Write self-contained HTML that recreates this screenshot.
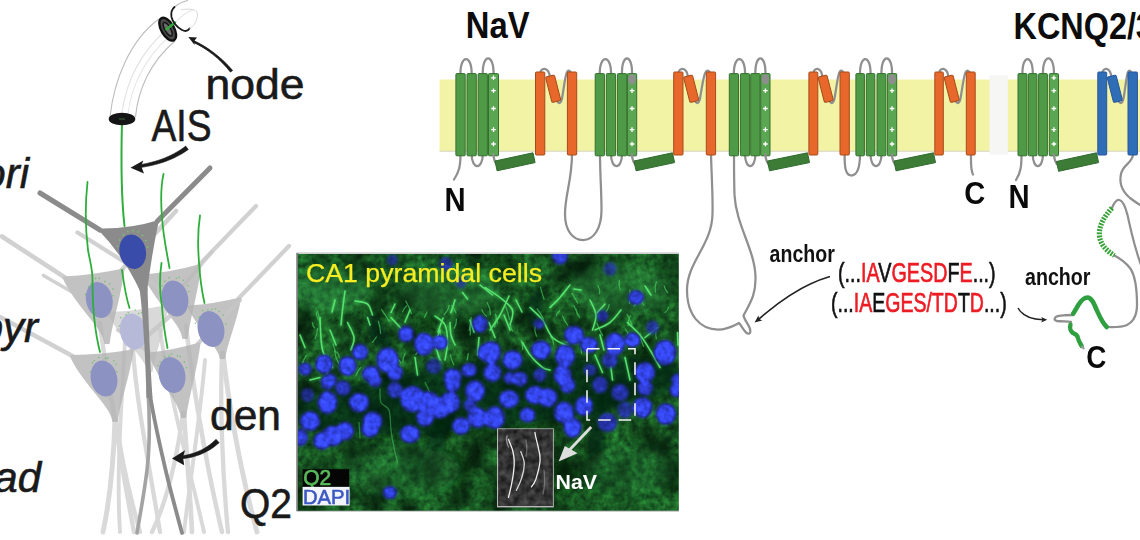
<!DOCTYPE html>
<html lang="en"><head><meta charset="utf-8"><title>AIS channels figure</title>
<style>
html,body{margin:0;padding:0;background:#fff;}
body{width:1140px;height:540px;overflow:hidden;position:relative;font-family:"Liberation Sans",sans-serif;}
svg{position:absolute;left:0;top:0;display:block;}
text{font-family:"Liberation Sans",sans-serif;}
.lab{fill:#1a1a1a;font-size:42px;stroke:#1a1a1a;stroke-width:0.6px;}
.it{font-style:italic;}
.b{font-weight:bold;}
.red{fill:#ed1c24;stroke:#ed1c24;}
</style></head><body>
<svg width="1140" height="540" viewBox="0 0 1140 540">
<defs>
<filter id="noise" x="0" y="0" width="100%" height="100%" color-interpolation-filters="sRGB">
<feTurbulence type="fractalNoise" baseFrequency="0.16" numOctaves="3" seed="4" result="t"/>
<feColorMatrix type="matrix" values="0.18 0 0 0 0.03  0.56 0 0 0 0.13  0.2 0 0 0 0.06  0 0 0 0 1"/>
</filter>
<filter id="gnoise" x="0" y="0" width="100%" height="100%" color-interpolation-filters="sRGB">
<feTurbulence type="fractalNoise" baseFrequency="0.14" numOctaves="2" seed="9"/>
<feColorMatrix type="matrix" values="0.42 0 0 0 -0.01  0.42 0 0 0 -0.01  0.42 0 0 0 -0.01  0 0 0 0 1"/>
</filter>
<filter id="lnoise" x="0" y="0" width="100%" height="100%" color-interpolation-filters="sRGB">
<feTurbulence type="fractalNoise" baseFrequency="0.035" numOctaves="2" seed="21"/>
<feColorMatrix type="matrix" values="0 0 0 0 0.01  0 0 0 0 0.08  0 0 0 0 0.03  0 1.8 0 0 -0.62"/>
</filter>
<filter id="bl1" color-interpolation-filters="sRGB"><feGaussianBlur in="SourceGraphic" stdDeviation="1.5" result="b"/>
<feTurbulence type="fractalNoise" baseFrequency="0.17" numOctaves="2" seed="3" result="n"/>
<feColorMatrix in="n" type="matrix" values="1 0 0 0 0  1 0 0 0 0  1 0 0 0 0  0 0 0 0 1" result="n2"/>
<feComposite in="b" in2="n2" operator="arithmetic" k1="0.8" k2="0.66" k3="0" k4="0"/></filter>
<filter id="bl2"><feGaussianBlur stdDeviation="0.7"/></filter><filter id="bl4"><feGaussianBlur stdDeviation="1.6"/></filter>
<filter id="bl3"><feGaussianBlur stdDeviation="4"/></filter>
<clipPath id="mclip"><rect x="298" y="254" width="380.5" height="256.5"/></clipPath>
</defs>
<g id="neuron">
<g opacity="0.7" fill="none" stroke="#c9c9c9" stroke-linecap="round">
<path d="M100,323 C104,360 112,400 118,440 C124,480 130,510 134,532" stroke-width="4.5"/>
<path d="M115,419 C114,450 112,490 103,532" stroke-width="4.9"/>
<path d="M116,419 C120,450 128,490 140,532" stroke-width="4.3"/>
<path d="M184,413 C186,450 190,490 192,532" stroke-width="4.7"/>
<path d="M183,413 C178,450 170,495 152,532" stroke-width="4.3"/>
<path d="M223,353 C228,400 240,470 257,532" stroke-width="4.9"/>
<path d="M222,353 C220,400 222,470 228,532" stroke-width="4.3"/>
<path d="M186,326 C192,380 205,460 222,532" stroke-width="4.5"/>
<path d="M133,350 C136,400 150,470 160,532" stroke-width="4.3"/>
<path d="M160,330 C170,400 190,470 204,532" stroke-width="3.9000000000000004"/>
<path d="M205,360 C200,420 190,480 184,532" stroke-width="3.9000000000000004"/>
<path d="M125,340 C122,400 116,470 120,532" stroke-width="3.9000000000000004"/>
</g>
<g opacity="0.75">
<path d="M166,306 L212,252" fill="none" stroke="#d6d6d6" stroke-width="4" stroke-linecap="round"/>
<path d="M108.5,313 Q138.0,312.0 167.5,306 C163.5,332.0 153.5,354.8 151.8,371 L148.2,371 C146.5,356.5 118.5,336.2 108.5,313 Z" fill="#cdcdcd" stroke="#cdcdcd" stroke-width="2" stroke-linejoin="round"/>
</g>
<g opacity="0.8">
<path d="M65,277.5 L2,236.5" fill="none" stroke="#c6c6c6" stroke-width="4.6" stroke-linecap="round"/>
<path d="M43.5,275.5 L72,292" fill="none" stroke="#c6c6c6" stroke-width="3.6" stroke-linecap="round"/>
<path d="M122,269.5 L176,211" fill="none" stroke="#c6c6c6" stroke-width="4.6" stroke-linecap="round"/>
<path d="M63.5,277.5 Q93.5,276.0 123.5,269.5 C119.8,298.9 110.5,324.6 108.8,343 L105.2,343 C103.5,326.6 74.0,303.7 63.5,277.5 Z" fill="#b4b4b4" stroke="#b4b4b4" stroke-width="2" stroke-linejoin="round"/>
</g>
<g opacity="0.8">
<path d="M146,275.5 L77.5,232.5" fill="none" stroke="#c6c6c6" stroke-width="4.2" stroke-linecap="round"/>
<path d="M199,265 L256,206" fill="none" stroke="#c6c6c6" stroke-width="4.2" stroke-linecap="round"/>
<path d="M144.5,275.5 Q172.5,272.8 200.5,265 C197.0,294.2 188.5,319.8 186.8,338 L183.2,338 C181.5,322.4 154.2,300.5 144.5,275.5 Z" fill="#b4b4b4" stroke="#b4b4b4" stroke-width="2" stroke-linejoin="round"/>
</g>
<g opacity="0.8">
<path d="M238.5,298.5 L289,246" fill="none" stroke="#c6c6c6" stroke-width="4.2" stroke-linecap="round"/>
<path d="M190,306.5 L150,282" fill="none" stroke="#c6c6c6" stroke-width="4.2" stroke-linecap="round"/>
<path d="M188.5,306.5 Q214.2,305.0 240.0,298.5 C236.0,322.3 226.0,343.1 224.3,358 L220.7,358 C219.0,345.1 196.6,327.1 188.5,306.5 Z" fill="#b4b4b4" stroke="#b4b4b4" stroke-width="2" stroke-linejoin="round"/>
</g>
<g opacity="0.8">
<path d="M72.5,356 L0,317" fill="none" stroke="#c6c6c6" stroke-width="4.4" stroke-linecap="round"/>
<path d="M131,350.5 L170,316" fill="none" stroke="#c6c6c6" stroke-width="4.4" stroke-linecap="round"/>
<path d="M71.0,356 Q101.8,355.8 132.5,350.5 C128.5,378.7 118.5,403.4 116.8,421 L113.2,421 C111.5,404.8 81.6,382.0 71.0,356 Z" fill="#b4b4b4" stroke="#b4b4b4" stroke-width="2" stroke-linejoin="round"/>
</g>
<g opacity="0.8">
<path d="M198,343.5 L240,300" fill="none" stroke="#c6c6c6" stroke-width="4" stroke-linecap="round"/>
<path d="M150,353 L118,330" fill="none" stroke="#c6c6c6" stroke-width="4" stroke-linecap="round"/>
<path d="M149.5,353.5 Q174.5,351.0 199.5,343.5 C195.9,372.9 187.0,398.6 185.3,417 L181.7,417 C180.0,401.1 157.6,378.9 149.5,353.5 Z" fill="#b4b4b4" stroke="#b4b4b4" stroke-width="2" stroke-linejoin="round"/>
</g>
<ellipse cx="133.3" cy="331.5" rx="13.2" ry="18.2" fill="#b6bad8" transform="rotate(-12 133.3 331.5)"/>
<circle cx="119.2" cy="326.0" r="0.8" fill="#5fc060" opacity="0.8"/>
<circle cx="120.6" cy="317.8" r="0.8" fill="#5fc060" opacity="0.8"/>
<circle cx="126.1" cy="314.8" r="0.8" fill="#5fc060" opacity="0.8"/>
<circle cx="128.3" cy="312.7" r="0.8" fill="#5fc060" opacity="0.8"/>
<circle cx="135.2" cy="310.0" r="0.8" fill="#5fc060" opacity="0.8"/>
<circle cx="138.8" cy="313.6" r="0.8" fill="#5fc060" opacity="0.8"/>
<circle cx="141.7" cy="312.8" r="0.8" fill="#5fc060" opacity="0.8"/>
<circle cx="144.8" cy="319.5" r="0.8" fill="#5fc060" opacity="0.8"/>
<circle cx="146.4" cy="325.7" r="0.8" fill="#5fc060" opacity="0.8"/>
<ellipse cx="99.3" cy="300" rx="13.2" ry="18.2" fill="#8c93c2" transform="rotate(-12 99.3 300)"/>
<circle cx="85.5" cy="294.4" r="0.8" fill="#5fc060" opacity="0.8"/>
<circle cx="88.7" cy="286.6" r="0.8" fill="#5fc060" opacity="0.8"/>
<circle cx="91.4" cy="283.9" r="0.8" fill="#5fc060" opacity="0.8"/>
<circle cx="95.5" cy="278.6" r="0.8" fill="#5fc060" opacity="0.8"/>
<circle cx="99.3" cy="278.4" r="0.8" fill="#5fc060" opacity="0.8"/>
<circle cx="104.8" cy="281.6" r="0.8" fill="#5fc060" opacity="0.8"/>
<circle cx="109.6" cy="284.0" r="0.8" fill="#5fc060" opacity="0.8"/>
<circle cx="113.0" cy="289.0" r="0.8" fill="#5fc060" opacity="0.8"/>
<circle cx="113.0" cy="295.8" r="0.8" fill="#5fc060" opacity="0.8"/>
<ellipse cx="175" cy="298.5" rx="13.2" ry="18.2" fill="#8c93c2" transform="rotate(-12 175 298.5)"/>
<circle cx="160.1" cy="292.4" r="0.8" fill="#5fc060" opacity="0.8"/>
<circle cx="162.0" cy="285.7" r="0.8" fill="#5fc060" opacity="0.8"/>
<circle cx="165.0" cy="281.4" r="0.8" fill="#5fc060" opacity="0.8"/>
<circle cx="169.1" cy="277.7" r="0.8" fill="#5fc060" opacity="0.8"/>
<circle cx="176.4" cy="278.3" r="0.8" fill="#5fc060" opacity="0.8"/>
<circle cx="178.9" cy="277.2" r="0.8" fill="#5fc060" opacity="0.8"/>
<circle cx="183.4" cy="280.2" r="0.8" fill="#5fc060" opacity="0.8"/>
<circle cx="187.9" cy="285.7" r="0.8" fill="#5fc060" opacity="0.8"/>
<circle cx="188.9" cy="291.5" r="0.8" fill="#5fc060" opacity="0.8"/>
<ellipse cx="211" cy="329" rx="13.2" ry="18.2" fill="#8c93c2" transform="rotate(-12 211 329)"/>
<circle cx="195.4" cy="323.2" r="0.8" fill="#5fc060" opacity="0.8"/>
<circle cx="199.4" cy="317.4" r="0.8" fill="#5fc060" opacity="0.8"/>
<circle cx="202.7" cy="310.5" r="0.8" fill="#5fc060" opacity="0.8"/>
<circle cx="207.9" cy="310.0" r="0.8" fill="#5fc060" opacity="0.8"/>
<circle cx="211.9" cy="309.5" r="0.8" fill="#5fc060" opacity="0.8"/>
<circle cx="215.4" cy="308.8" r="0.8" fill="#5fc060" opacity="0.8"/>
<circle cx="219.1" cy="311.3" r="0.8" fill="#5fc060" opacity="0.8"/>
<circle cx="223.4" cy="315.2" r="0.8" fill="#5fc060" opacity="0.8"/>
<circle cx="225.8" cy="324.1" r="0.8" fill="#5fc060" opacity="0.8"/>
<ellipse cx="104" cy="378.5" rx="13.2" ry="18.2" fill="#8c93c2" transform="rotate(-12 104 378.5)"/>
<circle cx="90.4" cy="371.7" r="0.8" fill="#5fc060" opacity="0.8"/>
<circle cx="92.4" cy="362.8" r="0.8" fill="#5fc060" opacity="0.8"/>
<circle cx="94.3" cy="360.7" r="0.8" fill="#5fc060" opacity="0.8"/>
<circle cx="98.8" cy="357.5" r="0.8" fill="#5fc060" opacity="0.8"/>
<circle cx="105.7" cy="358.4" r="0.8" fill="#5fc060" opacity="0.8"/>
<circle cx="108.0" cy="358.1" r="0.8" fill="#5fc060" opacity="0.8"/>
<circle cx="113.8" cy="360.8" r="0.8" fill="#5fc060" opacity="0.8"/>
<circle cx="116.1" cy="364.2" r="0.8" fill="#5fc060" opacity="0.8"/>
<circle cx="116.9" cy="371.7" r="0.8" fill="#5fc060" opacity="0.8"/>
<ellipse cx="172" cy="375" rx="13.2" ry="18.2" fill="#8c93c2" transform="rotate(-12 172 375)"/>
<circle cx="158.0" cy="365.6" r="0.8" fill="#5fc060" opacity="0.8"/>
<circle cx="160.1" cy="362.0" r="0.8" fill="#5fc060" opacity="0.8"/>
<circle cx="164.8" cy="356.9" r="0.8" fill="#5fc060" opacity="0.8"/>
<circle cx="169.0" cy="355.9" r="0.8" fill="#5fc060" opacity="0.8"/>
<circle cx="171.5" cy="354.1" r="0.8" fill="#5fc060" opacity="0.8"/>
<circle cx="177.4" cy="355.7" r="0.8" fill="#5fc060" opacity="0.8"/>
<circle cx="180.2" cy="356.6" r="0.8" fill="#5fc060" opacity="0.8"/>
<circle cx="184.4" cy="362.1" r="0.8" fill="#5fc060" opacity="0.8"/>
<circle cx="186.4" cy="367.7" r="0.8" fill="#5fc060" opacity="0.8"/>
<path d="M148,390 C150,420 150,445 147,470 C144,495 140,515 137,533" fill="none" stroke="#a3a3a3" stroke-width="3.6" stroke-linecap="round"/>
<path d="M100,230 L40,193" stroke="#8b8b8b" stroke-width="5" stroke-linecap="round" fill="none"/>
<path d="M157,221.5 L210,168" stroke="#8b8b8b" stroke-width="5" stroke-linecap="round" fill="none"/>
<path d="M97,228.5 Q128,229.5 159,220 Q152,252 147,292 L140.5,292 Q124,256 97,228.5 Z" fill="#8b8b8b"/>
<path d="M149.5,392 C154,420 162,455 168,480 C173,500 178,518 182,533" fill="none" stroke="#8b8b8b" stroke-width="3.8" stroke-linecap="round"/>
<path d="M139.5,288 L147.5,288 C148.5,320 150,360 152.5,398 L146.5,398 C145.5,360 143.5,320 139.5,288 Z" fill="#8b8b8b"/>
<ellipse cx="132.7" cy="251.7" rx="13.2" ry="17.4" fill="#3a4caa" transform="rotate(-12 132.7 251.7)"/>
<circle cx="117.7" cy="246.3" r="0.8" fill="#6fd070"/>
<circle cx="119.8" cy="240.0" r="0.8" fill="#6fd070"/>
<circle cx="123.4" cy="234.9" r="0.8" fill="#6fd070"/>
<circle cx="127.9" cy="231.7" r="0.8" fill="#6fd070"/>
<circle cx="133.0" cy="230.7" r="0.8" fill="#6fd070"/>
<circle cx="138.0" cy="232.0" r="0.8" fill="#6fd070"/>
<circle cx="142.5" cy="235.4" r="0.8" fill="#6fd070"/>
<circle cx="145.8" cy="240.6" r="0.8" fill="#6fd070"/>
<circle cx="147.8" cy="247.0" r="0.8" fill="#6fd070"/>
<path d="M122,122 C121,160 121,195 124.5,226" fill="none" stroke="#2fae3c" stroke-width="2" stroke-linecap="round"/>
<path d="M87.5,182 C85,205 85.5,230 88,250 C90,262 92.5,268 92.5,280 C92.5,300 93,325 100,352" fill="none" stroke="#2fae3c" stroke-width="1.8" stroke-linecap="round"/>
<path d="M163.5,174 C160,190 161,205 162,217 C163,235 166,248 169.5,268" fill="none" stroke="#2fae3c" stroke-width="1.8" stroke-linecap="round"/>
<path d="M200,215.5 C197,235 198,250 199,262 C200,280 202,292 204.5,303" fill="none" stroke="#2fae3c" stroke-width="1.8" stroke-linecap="round"/>
<path d="M161.5,263 C159,280 160,295 162,306 C163,322 165,335 167.5,348" fill="none" stroke="#2fae3c" stroke-width="1.8" stroke-linecap="round"/>
<path d="M122,270 C124,285 126,297 129.5,308" fill="none" stroke="#2fae3c" stroke-width="1.8" stroke-linecap="round"/>
<g fill="none" stroke="#bcbcbc" stroke-width="1.1">
<path d="M110,117 C114,80 130,40 159,19"/>
<path d="M135.5,117 C138,90 150,62 175,41"/>
<path d="M122,112 C126,85 138,55 166,30" stroke="#e3e3e3"/>
<path d="M128,114 C131,88 144,58 170,36" stroke="#e8e8e8"/>
<path d="M174.5,7 C178,4 183,1.5 188,0.5" />
<path d="M176,22 C181,16 187,12 193,10" stroke="#e6e6e6"/>
</g>
<ellipse cx="122" cy="119" rx="13.3" ry="6.2" fill="#151515"/>
<path d="M119,119 h6" stroke="#3a6b3a" stroke-width="1"/>
<g transform="rotate(-30 167.7 29.2)"><ellipse cx="167.7" cy="29.2" rx="6.4" ry="12.6" fill="#4a4a4a" stroke="#111" stroke-width="2.4"/><ellipse cx="167.7" cy="29.2" rx="2.8" ry="7.6" fill="#6a6a6a" stroke="#151515" stroke-width="1.4"/></g>
<path d="M166.5,29.2 L175,22.6" stroke="#2fae3c" stroke-width="2.4" stroke-linecap="round" stroke-dasharray="2.2 1"/>
<path d="M174.5,7 C171,10 171,14 171.5,17 C172.5,22 177,27.5 182,30 C185,31.5 188,31 189.5,28.5" fill="none" stroke="#1a1a1a" stroke-width="1.8" stroke-linecap="round"/>
<path d="M189.5,28.5 C193,27 197,22 197.5,15 C197.5,11 195,9.5 191,9.3 C187,9 184,9.2 181,10" fill="none" stroke="#d4d4d4" stroke-width="0.9"/>
<path d="M232.6,70.5 C222,58 207,46.5 194,40.8 L193.2,42.3 C206,48 220.5,59 230.4,72 Z" fill="#1a1a1a" stroke="#1a1a1a" stroke-width="0.8" stroke-linejoin="round"/>
<path d="M188.3,37 L197,37.6 L194.4,40.8 L194.6,45 Z" fill="#1a1a1a"/>
<path d="M185.7,146.1 L183.1,148.1 L180.3,150.0 L177.4,151.7 L174.4,153.4 L171.4,155.0 L168.2,156.5 L164.9,157.9 L161.5,159.2 L158.0,160.4 L154.3,161.5 L150.6,162.5 L146.8,163.4 L142.8,164.2 L138.8,164.9 L139.2,167.7 L143.3,167.1 L147.4,166.3 L151.3,165.5 L155.2,164.6 L158.9,163.5 L162.6,162.4 L166.1,161.2 L169.6,159.8 L172.9,158.4 L176.2,156.8 L179.4,155.1 L182.4,153.4 L185.4,151.5 L188.3,149.5 Z" fill="#1a1a1a" stroke="#1a1a1a" stroke-width="0.6" stroke-linejoin="round"/>
<path d="M130.5,167.8 L143.3,160.4 L141.2,166.3 L144,173.6 Z" fill="#1a1a1a"/>
<path d="M216.0,439.3 L214.0,441.3 L211.9,443.1 L209.8,444.8 L207.6,446.3 L205.2,447.8 L202.9,449.2 L200.4,450.4 L197.8,451.5 L195.2,452.6 L192.5,453.5 L189.7,454.3 L186.8,455.0 L183.9,455.5 L180.8,456.0 L181.2,458.8 L184.3,458.4 L187.4,458.0 L190.5,457.4 L193.4,456.7 L196.3,455.8 L199.1,454.9 L201.9,453.8 L204.6,452.6 L207.2,451.2 L209.8,449.8 L212.2,448.2 L214.6,446.5 L216.9,444.6 L219.2,442.7 Z" fill="#1a1a1a" stroke="#1a1a1a" stroke-width="0.6" stroke-linejoin="round"/>
<path d="M172,458.4 L185,450.2 L183,457.3 L184.2,465.2 Z" fill="#1a1a1a"/>
<text x="205.5" y="99" class="lab" textLength="99" lengthAdjust="spacingAndGlyphs">node</text>
<text x="151.5" y="141" class="lab" style="font-size:44px" textLength="60" lengthAdjust="spacingAndGlyphs">AIS</text>
<text x="210" y="430" class="lab" textLength="71" lengthAdjust="spacingAndGlyphs">den</text>
<text x="240" y="518" class="lab" textLength="52" lengthAdjust="spacingAndGlyphs">Q2</text>
<text x="29" y="188" class="lab it" text-anchor="end">ori</text>
<text x="38" y="341.5" class="lab it" text-anchor="end">pyr</text>
<text x="41" y="491.5" class="lab it" text-anchor="end">rad</text>
</g>
<g id="micro">
<rect x="296.5" y="252.3" width="382.5" height="259.7" fill="#cfcfcf"/>
<rect x="296.3" y="253" width="2" height="258" fill="#7c7c7c"/>
<g clip-path="url(#mclip)">
<rect x="298" y="254" width="381" height="257" fill="#17622f"/>
<rect x="298" y="254" width="381" height="257" filter="url(#noise)" opacity="0.9"/>
<rect x="298" y="254" width="381" height="257" filter="url(#lnoise)"/>
<g filter="url(#bl3)">
<ellipse cx="379" cy="334" rx="9" ry="24" fill="#031a0c" opacity="0.75" transform="rotate(-28 379 334)"/>
<ellipse cx="425" cy="330" rx="9" ry="22" fill="#031a0c" opacity="0.4" transform="rotate(10 425 330)"/>
<ellipse cx="535" cy="308" rx="8" ry="20" fill="#031a0c" opacity="0.6" transform="rotate(8 535 308)"/>
<ellipse cx="500" cy="262" rx="12" ry="12" fill="#031a0c" opacity="0.4" transform="rotate(0 500 262)"/>
<ellipse cx="436" cy="447" rx="9" ry="42" fill="#031a0c" opacity="0.6" transform="rotate(8 436 447)"/>
<ellipse cx="598" cy="428" rx="9" ry="42" fill="#031a0c" opacity="0.6" transform="rotate(5 598 428)"/>
<ellipse cx="455" cy="470" rx="14" ry="20" fill="#031a0c" opacity="0.3" transform="rotate(0 455 470)"/>
<ellipse cx="306" cy="498" rx="16" ry="16" fill="#031a0c" opacity="0.5" transform="rotate(0 306 498)"/>
<ellipse cx="375" cy="480" rx="12" ry="10" fill="#031a0c" opacity="0.3" transform="rotate(0 375 480)"/>
<ellipse cx="560" cy="478" rx="16" ry="20" fill="#031a0c" opacity="0.3" transform="rotate(0 560 478)"/>
<ellipse cx="490" cy="395" rx="200" ry="34" fill="#04260f" opacity="0.68" transform="rotate(-6 490 395)"/>
<ellipse cx="330" cy="290" rx="40" ry="22" fill="#3aa854" opacity="0.3" transform="rotate(0 330 290)"/>
<ellipse cx="450" cy="292" rx="50" ry="22" fill="#3aa854" opacity="0.28" transform="rotate(0 450 292)"/>
<ellipse cx="620" cy="290" rx="50" ry="25" fill="#3aa854" opacity="0.28" transform="rotate(0 620 290)"/>
<ellipse cx="400" cy="470" rx="60" ry="25" fill="#3aa854" opacity="0.12" transform="rotate(0 400 470)"/>
<ellipse cx="630" cy="470" rx="45" ry="25" fill="#3aa854" opacity="0.12" transform="rotate(0 630 470)"/>
</g>
<g filter="url(#bl4)" fill="none" stroke="#46d862" stroke-width="3.2" stroke-linecap="round" opacity="0.4">
<path d="M345,291 C344.6,294.2 343.2,304.3 342.5,310 C341.8,315.7 341.2,322.5 341,325"/>
<path d="M355,301 C357.1,301.5 364.6,301.7 367.5,304 C370.4,306.3 371.7,313.2 372.5,315"/>
<path d="M320,317.5 C320.4,322.9 320.4,341.7 322.5,350 C324.6,358.3 330.8,364.6 332.5,367.5"/>
<path d="M347.5,322.5 C348.6,325.0 353.4,332.9 354,337.5 C354.6,342.1 351.5,347.9 351,350"/>
<path d="M395,304 L391,312.5"/>
<path d="M391,317.5 C392.9,319.6 400.0,327.1 402.5,330 C405.0,332.9 405.4,334.2 406,335"/>
<path d="M435,316 C436.7,317.5 442.9,320.6 445,325 C447.1,329.4 447.5,336.7 447.5,342.5 C447.5,348.3 445.4,357.1 445,360"/>
<path d="M450,322.5 C450.2,324.6 450.2,331.2 451,335 C451.8,338.8 454.3,343.3 455,345"/>
<path d="M455,300 L451,312.5"/>
<path d="M462.5,292.5 L467.5,299"/>
<path d="M480,285 L492.5,295"/>
<path d="M479,337.5 L477.5,355"/>
<path d="M415,357.5 L417.5,375"/>
<path d="M367.5,317.5 L370,325"/>
<path d="M300,335 L305,347.5"/>
<path d="M310,380 L320,377.5"/>
<path d="M485,287.5 C487.5,289.2 495.4,293.8 500,297.5 C504.6,301.2 510.8,305.4 512.5,310 C514.2,314.6 510.4,322.5 510,325"/>
<path d="M509,296 C507.5,299.2 503.2,309.3 500,315 C496.8,320.7 491.7,327.5 490,330"/>
<path d="M570,285 C568.3,287.1 563.3,293.8 560,297.5 C556.7,301.2 551.7,305.8 550,307.5"/>
<path d="M574,289 L581,290"/>
<path d="M530,307.5 C532.1,309.6 538.8,315.0 542.5,320 C546.2,325.0 548.3,333.2 552.5,337.5 C556.7,341.8 565.0,344.6 567.5,346"/>
<path d="M590,300 C591.0,302.5 595.6,310.0 596,315 C596.4,320.0 593.1,327.5 592.5,330"/>
<path d="M605,304 L597.5,312.5"/>
<path d="M621,310 C619.2,312.1 614.3,319.2 610,322.5 C605.7,325.8 597.5,328.8 595,330"/>
<path d="M645,286 L651,295"/>
<path d="M627.5,322.5 C629.6,324.6 636.2,330.4 640,335 C643.8,339.6 646.7,344.6 650,350 C653.3,355.4 658.3,364.6 660,367.5"/>
<path d="M657.5,327.5 L645,337.5"/>
<path d="M522.5,342.5 C523.8,344.6 526.7,350.8 530,355 C533.3,359.2 539.2,365.0 542.5,367.5 C545.8,370.0 548.8,369.6 550,370"/>
<path d="M504,315 L510,330"/>
<path d="M489,322.5 L495,337.5"/>
<path d="M595,355 L602.5,372.5"/>
<path d="M610,360 L612.5,380"/>
<path d="M625,357.5 L630,380"/>
<path d="M677.5,332.5 L678,345"/>
<path d="M440,330 C439.3,332.5 436.0,340.0 436,345 C436.0,350.0 439.3,357.5 440,360"/>
<path d="M443,318 L438,332"/>
<path d="M330,330 L336,345"/>
<path d="M410,310 L405,322"/>
<path d="M470,320 L474,332"/>
<path d="M516,300 L522,312"/>
<path d="M600,335 L604,350"/>
<path d="M335,300 L332,312"/>
</g>
<g filter="url(#bl2)" fill="none" stroke="#5cec74" stroke-width="1.6" stroke-linecap="round" opacity="0.9">
<path d="M345,291 C344.6,294.2 343.2,304.3 342.5,310 C341.8,315.7 341.2,322.5 341,325"/>
<path d="M355,301 C357.1,301.5 364.6,301.7 367.5,304 C370.4,306.3 371.7,313.2 372.5,315"/>
<path d="M320,317.5 C320.4,322.9 320.4,341.7 322.5,350 C324.6,358.3 330.8,364.6 332.5,367.5"/>
<path d="M347.5,322.5 C348.6,325.0 353.4,332.9 354,337.5 C354.6,342.1 351.5,347.9 351,350"/>
<path d="M395,304 L391,312.5"/>
<path d="M391,317.5 C392.9,319.6 400.0,327.1 402.5,330 C405.0,332.9 405.4,334.2 406,335"/>
<path d="M435,316 C436.7,317.5 442.9,320.6 445,325 C447.1,329.4 447.5,336.7 447.5,342.5 C447.5,348.3 445.4,357.1 445,360"/>
<path d="M450,322.5 C450.2,324.6 450.2,331.2 451,335 C451.8,338.8 454.3,343.3 455,345"/>
<path d="M455,300 L451,312.5"/>
<path d="M462.5,292.5 L467.5,299"/>
<path d="M480,285 L492.5,295"/>
<path d="M479,337.5 L477.5,355"/>
<path d="M415,357.5 L417.5,375"/>
<path d="M367.5,317.5 L370,325"/>
<path d="M300,335 L305,347.5"/>
<path d="M310,380 L320,377.5"/>
<path d="M485,287.5 C487.5,289.2 495.4,293.8 500,297.5 C504.6,301.2 510.8,305.4 512.5,310 C514.2,314.6 510.4,322.5 510,325"/>
<path d="M509,296 C507.5,299.2 503.2,309.3 500,315 C496.8,320.7 491.7,327.5 490,330"/>
<path d="M570,285 C568.3,287.1 563.3,293.8 560,297.5 C556.7,301.2 551.7,305.8 550,307.5"/>
<path d="M574,289 L581,290"/>
<path d="M530,307.5 C532.1,309.6 538.8,315.0 542.5,320 C546.2,325.0 548.3,333.2 552.5,337.5 C556.7,341.8 565.0,344.6 567.5,346"/>
<path d="M590,300 C591.0,302.5 595.6,310.0 596,315 C596.4,320.0 593.1,327.5 592.5,330"/>
<path d="M605,304 L597.5,312.5"/>
<path d="M621,310 C619.2,312.1 614.3,319.2 610,322.5 C605.7,325.8 597.5,328.8 595,330"/>
<path d="M645,286 L651,295"/>
<path d="M627.5,322.5 C629.6,324.6 636.2,330.4 640,335 C643.8,339.6 646.7,344.6 650,350 C653.3,355.4 658.3,364.6 660,367.5"/>
<path d="M657.5,327.5 L645,337.5"/>
<path d="M522.5,342.5 C523.8,344.6 526.7,350.8 530,355 C533.3,359.2 539.2,365.0 542.5,367.5 C545.8,370.0 548.8,369.6 550,370"/>
<path d="M504,315 L510,330"/>
<path d="M489,322.5 L495,337.5"/>
<path d="M595,355 L602.5,372.5"/>
<path d="M610,360 L612.5,380"/>
<path d="M625,357.5 L630,380"/>
<path d="M677.5,332.5 L678,345"/>
<path d="M380,389 C380.2,391.2 379.5,399.0 381,402.5 C382.5,406.0 387.3,405.4 389,410 C390.7,414.6 390.2,423.8 391,430 C391.8,436.2 392.9,442.1 394,447.5 C395.1,452.9 396.9,460.0 397.5,462.5" opacity="0.45" stroke-width="1.3"/>
<path d="M359,422.5 L360,437.5" opacity="0.45" stroke-width="1.3"/>
<path d="M425,382.5 L430,392.5" opacity="0.45" stroke-width="1.3"/>
<path d="M440,330 C439.3,332.5 436.0,340.0 436,345 C436.0,350.0 439.3,357.5 440,360"/>
<path d="M443,318 L438,332"/>
<path d="M330,330 L336,345"/>
<path d="M410,310 L405,322"/>
<path d="M470,320 L474,332"/>
<path d="M516,300 L522,312"/>
<path d="M600,335 L604,350"/>
<path d="M335,300 L332,312"/>
</g>
<g filter="url(#bl2)" fill="none" stroke="#52e06c" stroke-width="1.2" stroke-linecap="round" opacity="0.6">
<path d="M470.7,321.7 Q470.5,328.3 470.2,335.0"/>
<path d="M521.1,340.0 Q523.0,344.7 522.6,349.5"/>
<path d="M337.1,352.0 Q339.0,354.7 339.3,357.4"/>
<path d="M317.6,311.3 Q319.4,318.0 320.2,324.7"/>
<path d="M360.7,367.6 Q357.0,371.8 355.7,376.0"/>
<path d="M392.2,363.3 Q393.3,367.9 391.6,372.5"/>
<path d="M495.6,314.0 Q496.4,318.6 497.5,323.3"/>
<path d="M405.8,301.0 Q409.4,307.3 411.4,313.7"/>
<path d="M419.6,347.9 Q418.8,351.2 415.8,354.5"/>
<path d="M451.3,305.6 Q455.0,309.2 455.9,312.8"/>
<path d="M302.2,361.6 Q303.9,368.1 301.7,374.7"/>
<path d="M450.2,354.5 Q451.1,359.5 453.8,364.6"/>
<path d="M334.5,350.4 Q335.1,356.9 338.7,363.4"/>
<path d="M393.9,358.7 Q393.6,361.3 395.9,363.9"/>
<path d="M510.6,324.5 Q510.1,327.7 512.5,331.0"/>
<path d="M542.1,342.0 Q539.7,346.2 539.1,350.3"/>
<path d="M664.2,285.8 Q664.8,289.3 667.7,292.7"/>
<path d="M449.1,305.4 Q448.5,310.2 444.0,314.9"/>
<path d="M381.5,350.1 Q379.5,355.9 379.1,361.8"/>
<path d="M329.4,366.2 Q328.2,371.1 326.2,376.0"/>
<path d="M440.6,331.6 Q440.8,338.4 440.4,345.2"/>
<path d="M625.2,329.1 Q628.0,331.9 628.3,334.7"/>
<path d="M395.1,353.0 Q396.8,358.0 401.0,363.0"/>
<path d="M656.4,281.7 Q654.3,286.9 655.4,292.1"/>
<path d="M316.4,312.6 Q316.3,316.1 318.2,319.5"/>
<path d="M609.2,304.7 Q608.7,308.2 606.3,311.7"/>
<path d="M327.7,357.7 Q330.2,362.2 331.8,366.8"/>
<path d="M406.5,305.9 Q403.7,308.8 402.7,311.6"/>
<path d="M468.2,353.4 Q468.0,356.6 467.2,359.9"/>
<path d="M351.1,346.8 Q355.3,352.2 358.3,357.6"/>
<path d="M559.8,310.7 Q556.2,313.3 556.5,316.0"/>
<path d="M641.5,294.7 Q638.3,300.4 634.0,306.1"/>
<path d="M481.9,309.7 Q482.4,313.0 486.4,316.2"/>
<path d="M505.7,306.8 Q508.4,313.1 509.4,319.4"/>
<path d="M597.9,285.8 Q600.4,289.8 599.7,293.8"/>
<path d="M626.9,314.1 Q629.8,319.6 632.1,325.1"/>
<path d="M535.1,326.0 Q534.1,331.1 536.5,336.2"/>
<path d="M540.5,287.0 Q541.8,293.2 544.1,299.4"/>
<path d="M576.2,309.2 Q576.3,313.3 579.8,317.4"/>
<path d="M581.8,343.3 Q580.6,348.5 581.6,353.7"/>
<path d="M562.5,315.9 Q564.1,320.5 567.7,325.1"/>
<path d="M306.2,355.4 Q302.9,360.6 302.3,365.8"/>
<path d="M639.8,297.5 Q641.2,301.4 644.0,305.4"/>
<path d="M550.4,336.0 Q553.7,340.1 553.6,344.3"/>
<path d="M630.3,315.8 Q627.7,320.8 628.1,325.8"/>
<path d="M487.2,302.5 Q490.6,308.6 490.4,314.7"/>
<path d="M405.2,353.2 Q402.9,357.6 402.8,361.9"/>
<path d="M456.4,319.0 Q456.7,323.6 454.3,328.2"/>
<path d="M668.3,307.5 Q668.3,309.9 665.2,312.3"/>
<path d="M317.5,328.5 Q317.5,333.4 315.1,338.4"/>
<path d="M309.1,365.5 Q308.0,369.3 304.1,373.1"/>
<path d="M390.6,356.5 Q390.8,359.2 391.4,361.9"/>
<path d="M537.0,308.7 Q541.0,313.9 543.5,319.0"/>
<path d="M376.4,337.0 Q374.4,339.7 372.6,342.4"/>
<path d="M568.4,335.3 Q568.5,339.0 567.0,342.6"/>
<path d="M496.1,315.5 Q496.5,321.4 494.6,327.2"/>
<path d="M640.0,333.5 Q640.3,340.0 643.6,346.4"/>
<path d="M471.2,317.5 Q470.5,324.0 469.2,330.5"/>
<path d="M630.0,289.9 Q630.3,296.6 629.4,303.4"/>
<path d="M378.4,321.2 Q380.4,327.3 380.6,333.4"/>
<path d="M381.6,309.7 Q385.5,315.4 389.2,321.2"/>
<path d="M597.0,323.4 Q599.1,329.4 602.5,335.4"/>
<path d="M332.9,343.7 Q334.4,348.5 336.1,353.2"/>
<path d="M312.6,322.7 Q312.3,325.3 314.6,327.9"/>
<path d="M427.0,311.9 Q425.7,314.8 424.3,317.6"/>
<path d="M571.9,293.3 Q574.8,298.1 577.7,302.9"/>
<path d="M656.0,331.9 Q655.3,335.4 656.3,338.9"/>
<path d="M573.9,305.8 Q576.1,310.2 577.8,314.6"/>
<path d="M418.3,338.5 Q420.1,344.0 424.2,349.6"/>
<path d="M619.3,280.2 Q618.6,285.0 620.2,289.9"/>
</g>
<g filter="url(#bl1)" fill="#3243e2">
<ellipse cx="392.5" cy="260" rx="5.4" ry="5.7" opacity="0.55"/>
<ellipse cx="446" cy="264" rx="6.5" ry="7.0" opacity="0.6"/>
<ellipse cx="461" cy="282.5" rx="5.4" ry="5.9" opacity="0.5"/>
<ellipse cx="480" cy="324" rx="7.6" ry="8.6" opacity="0.9"/>
<ellipse cx="406" cy="334" rx="7.6" ry="8.2" opacity="0.9"/>
<ellipse cx="424" cy="344" rx="9.7" ry="11.0" opacity="1"/>
<ellipse cx="440" cy="342.5" rx="7.6" ry="6.9" opacity="1"/>
<ellipse cx="360" cy="352" rx="7.6" ry="7.7" opacity="1"/>
<ellipse cx="387.5" cy="360" rx="10.8" ry="12.3" opacity="1"/>
<ellipse cx="324" cy="364" rx="8.6" ry="9.2" opacity="1"/>
<ellipse cx="347.5" cy="366" rx="8.6" ry="9.7" opacity="1"/>
<ellipse cx="371" cy="374" rx="8.6" ry="8.0" opacity="1"/>
<ellipse cx="395" cy="372.5" rx="7.6" ry="7.7" opacity="1"/>
<ellipse cx="305" cy="369" rx="6.5" ry="6.2" opacity="0.9"/>
<ellipse cx="434" cy="366" rx="7.6" ry="7.8" opacity="0.6"/>
<ellipse cx="452.5" cy="377.5" rx="8.6" ry="9.0" opacity="1"/>
<ellipse cx="469" cy="370" rx="7.6" ry="6.8" opacity="0.9"/>
<ellipse cx="487.5" cy="352.5" rx="9.7" ry="9.3" opacity="1"/>
<ellipse cx="330" cy="380" rx="6.5" ry="6.3" opacity="0.9"/>
<ellipse cx="560" cy="256" rx="7.6" ry="8.5" opacity="0.9"/>
<ellipse cx="610" cy="269" rx="6.5" ry="7.1" opacity="0.55"/>
<ellipse cx="636" cy="297.5" rx="7.6" ry="7.1" opacity="0.95"/>
<ellipse cx="602.5" cy="316" rx="5.4" ry="5.9" opacity="0.7"/>
<ellipse cx="539" cy="324" rx="5.4" ry="5.0" opacity="0.7"/>
<ellipse cx="652.5" cy="327.5" rx="6.5" ry="6.8" opacity="0.6"/>
<ellipse cx="574" cy="335" rx="9.7" ry="9.1" opacity="1"/>
<ellipse cx="589" cy="345" rx="8.6" ry="7.8" opacity="1"/>
<ellipse cx="615" cy="344" rx="9.7" ry="10.9" opacity="1"/>
<ellipse cx="632.5" cy="340" rx="7.6" ry="7.2" opacity="1"/>
<ellipse cx="541" cy="350" rx="9.7" ry="9.3" opacity="1"/>
<ellipse cx="565" cy="356" rx="9.7" ry="11.1" opacity="1"/>
<ellipse cx="491" cy="352.5" rx="9.7" ry="10.9" opacity="1"/>
<ellipse cx="512.5" cy="360" rx="9.7" ry="9.5" opacity="1"/>
<ellipse cx="665" cy="352.5" rx="10.8" ry="12.3" opacity="1"/>
<ellipse cx="645" cy="372.5" rx="9.7" ry="10.1" opacity="1"/>
<ellipse cx="492.5" cy="372.5" rx="8.6" ry="9.2" opacity="1"/>
<ellipse cx="520" cy="379" rx="7.6" ry="7.2" opacity="0.9"/>
<ellipse cx="562.5" cy="375" rx="8.6" ry="9.8" opacity="1"/>
<ellipse cx="610" cy="360" rx="7.6" ry="8.1" opacity="0.7"/>
<ellipse cx="677" cy="380" rx="5.4" ry="6.2" opacity="0.9"/>
<ellipse cx="327.5" cy="402.5" rx="9.7" ry="10.9" opacity="1"/>
<ellipse cx="359" cy="402.5" rx="9.7" ry="9.5" opacity="1"/>
<ellipse cx="310" cy="421" rx="9.7" ry="9.6" opacity="1"/>
<ellipse cx="372.5" cy="421" rx="9.7" ry="9.2" opacity="1"/>
<ellipse cx="370" cy="429" rx="8.6" ry="8.1" opacity="1"/>
<ellipse cx="332.5" cy="436" rx="10.8" ry="9.9" opacity="1"/>
<ellipse cx="322" cy="441" rx="8.6" ry="8.4" opacity="1"/>
<ellipse cx="345" cy="431" rx="8.6" ry="9.1" opacity="1"/>
<ellipse cx="410" cy="434" rx="9.7" ry="8.8" opacity="1"/>
<ellipse cx="412.5" cy="399" rx="11.9" ry="12.7" opacity="1"/>
<ellipse cx="428" cy="402" rx="10.8" ry="10.6" opacity="1"/>
<ellipse cx="440" cy="407.5" rx="10.8" ry="10.6" opacity="1"/>
<ellipse cx="450" cy="402.5" rx="9.7" ry="10.7" opacity="1"/>
<ellipse cx="425" cy="417.5" rx="8.6" ry="8.8" opacity="1"/>
<ellipse cx="461" cy="426" rx="8.6" ry="8.5" opacity="1"/>
<ellipse cx="477.5" cy="417.5" rx="9.7" ry="9.9" opacity="1"/>
<ellipse cx="475" cy="391" rx="9.7" ry="10.5" opacity="1"/>
<ellipse cx="492.5" cy="420" rx="8.6" ry="7.9" opacity="1"/>
<ellipse cx="452.5" cy="384" rx="7.6" ry="8.6" opacity="0.9"/>
<ellipse cx="375" cy="381" rx="6.5" ry="5.9" opacity="0.9"/>
<ellipse cx="327.5" cy="382.5" rx="6.5" ry="7.0" opacity="0.9"/>
<ellipse cx="300" cy="437.5" rx="7.6" ry="8.4" opacity="0.9"/>
<ellipse cx="390" cy="492.5" rx="7.0" ry="6.3" opacity="0.95"/>
<ellipse cx="307.5" cy="395" rx="6.5" ry="7.1" opacity="0.6"/>
<ellipse cx="343" cy="388" rx="7.6" ry="7.5" opacity="0.8"/>
<ellipse cx="395" cy="390" rx="7.6" ry="7.9" opacity="0.8"/>
<ellipse cx="509" cy="399" rx="9.7" ry="8.8" opacity="1"/>
<ellipse cx="535" cy="395" rx="9.7" ry="8.9" opacity="1"/>
<ellipse cx="547.5" cy="397.5" rx="9.7" ry="9.2" opacity="1"/>
<ellipse cx="495" cy="417.5" rx="9.7" ry="11.1" opacity="1"/>
<ellipse cx="527.5" cy="415" rx="7.6" ry="7.2" opacity="1"/>
<ellipse cx="564" cy="412.5" rx="9.7" ry="10.6" opacity="1"/>
<ellipse cx="584" cy="406" rx="8.6" ry="9.8" opacity="1"/>
<ellipse cx="572.5" cy="427.5" rx="8.6" ry="9.8" opacity="1"/>
<ellipse cx="607.5" cy="422.5" rx="9.7" ry="9.6" opacity="0.7"/>
<ellipse cx="620" cy="392.5" rx="8.6" ry="8.5" opacity="0.7"/>
<ellipse cx="642.5" cy="407.5" rx="9.7" ry="10.0" opacity="1"/>
<ellipse cx="666" cy="414" rx="9.7" ry="10.6" opacity="1"/>
<ellipse cx="677.5" cy="390" rx="7.6" ry="7.0" opacity="1"/>
<ellipse cx="567.5" cy="385" rx="7.6" ry="8.2" opacity="0.9"/>
<ellipse cx="645" cy="387.5" rx="7.6" ry="8.3" opacity="0.9"/>
<ellipse cx="600" cy="385" rx="7.6" ry="8.4" opacity="0.7"/>
<ellipse cx="590" cy="370" rx="6.5" ry="5.9" opacity="0.6"/>
<ellipse cx="625" cy="410" rx="7.6" ry="8.6" opacity="0.6"/>
<ellipse cx="510" cy="378" rx="6.5" ry="6.0" opacity="0.8"/>
<ellipse cx="470" cy="405" rx="6.5" ry="6.4" opacity="0.7"/>
<ellipse cx="540" cy="375" rx="6.5" ry="6.8" opacity="0.7"/>
</g>
<rect x="587" y="348.8" width="48" height="71.2" fill="none" stroke="#f2f2f2" stroke-width="1.6" stroke-dasharray="12.5 8"/>
<path d="M591.2,427 L568,451.5" stroke="#dedede" stroke-width="2.8" fill="none"/>
<path d="M558.6,461.6 L564.8,446 L577.6,453.2 Z" fill="#dedede"/>
<rect x="497" y="428.4" width="56.8" height="79" fill="#b9b9b9"/>
<rect x="498.4" y="429.8" width="54" height="76.2" fill="#3c3c3c"/>
<rect x="498.4" y="429.8" width="54" height="76.2" filter="url(#gnoise)" opacity="0.8"/>
<g filter="url(#bl2)" fill="none" stroke="#f0f0f0" stroke-width="1.3" stroke-linecap="round">
<path d="M508.5,439.4 C510,444 512.5,448 513,452 C514.5,458 514.5,464 513.8,469.5 C513,480 510.5,489 508.5,497.4"/>
<path d="M520.8,451.7 C522.5,456 524.3,460 524.3,464 C524.3,469 523,474 521.7,478 C520,483 518,487 516.4,490.4" opacity="0.85"/>
<path d="M534.9,432.3 C535.5,438 537.5,443 538.4,448.2 C539.5,452 540.3,456 540.1,460.5 C539.5,468 537.5,474 535.7,479.8 C534.5,483 533,485 531.4,486.9"/>
<path d="M507,436 C506,440 507,444 508.5,447" opacity="0.5"/>
<path d="M544,470 C545,478 545,486 543,494" opacity="0.3"/>
<path d="M526,440 C527,446 527,452 526,456" opacity="0.3"/>
</g>
</g>
<text x="306" y="281.7" font-size="26.5" fill="#f6ee22" stroke="#f6ee22" stroke-width="0.25" textLength="236" lengthAdjust="spacingAndGlyphs">CA1 pyramidal cells</text>
<text x="555.5" y="489.2" font-size="20" class="b" fill="#fff" textLength="41.5" lengthAdjust="spacingAndGlyphs">NaV</text>
<rect x="302.6" y="469.2" width="46.5" height="17.6" fill="#050505"/>
<text x="303.2" y="485" font-size="22.5" fill="#58bb5a" stroke="#58bb5a" stroke-width="0.7" textLength="28" lengthAdjust="spacingAndGlyphs">Q2</text>
<rect x="302.6" y="486.9" width="47" height="18.6" fill="#f3f4fb"/>
<text x="303" y="504" font-size="21" fill="#3c57c4" stroke="#3c57c4" stroke-width="0.6" textLength="47.2" lengthAdjust="spacingAndGlyphs">DAPI</text>
</g>
<g id="channels">
<rect x="439.5" y="79.5" width="700.5" height="71.5" fill="#f3f3a6"/>
<rect x="439.5" y="150.6" width="700.5" height="1.2" fill="#d9d9c0"/>
<rect x="989.5" y="75.3" width="18.4" height="79.4" fill="#f6f6f5"/>
<text transform="translate(465.8 38.1) scale(0.885 1)" class="b" font-size="37" fill="#0c0c0c">NaV</text>
<text transform="translate(1013.6 38.8) scale(0.875 1)" class="b" font-size="37" fill="#0c0c0c">KCNQ2/3</text>
<path d="M460.5,154 C460.5,166 459,172 454,179.5" fill="none" stroke="#8f8f8f" stroke-width="2.25" stroke-linecap="round" stroke-linejoin="round" />
<path d="M572,154 C572,180 565,195 565,214 C565,231 573,240 583,240 C594,240 601.5,228 601.5,210 C601.5,190 600,175 600,154" fill="none" stroke="#8f8f8f" stroke-width="2.25" stroke-linecap="round" stroke-linejoin="round" />
<path d="M711,154 C711.5,175 713,195 712.5,214 C712,245 687,262 687,290 C687,315 700,329.5 718,329.5 C728,329.5 735,325 739,323 C741.5,325.5 744,331.5 747.5,333.5 C750.5,334.5 751,331 749.5,327.5 C747.5,323 744,319 743.5,315.5 C750,303 756,295 755.5,277 C755,250 736,225 734.5,195 C734,180 734,168 734,154" fill="none" stroke="#8f8f8f" stroke-width="2.25" stroke-linecap="round" stroke-linejoin="round" />
<path d="M844.6,154 C844.6,166 845,175 851,175.5 C858,175.5 860,166 860,154" fill="none" stroke="#8f8f8f" stroke-width="2.25" stroke-linecap="round" stroke-linejoin="round" />
<path d="M971,154 C971,164 970.5,170 973,174.5" fill="none" stroke="#8f8f8f" stroke-width="2.25" stroke-linecap="round" stroke-linejoin="round" />
<path d="M1021.5,154 C1021.5,166 1021,172 1016,180" fill="none" stroke="#8f8f8f" stroke-width="2.25" stroke-linecap="round" stroke-linejoin="round" />
<path d="M1133,154 C1133,163 1123,164 1121,174 C1118.5,186 1124,193 1130,198 C1134,201 1138,204 1142,206" fill="none" stroke="#8f8f8f" stroke-width="2.25" stroke-linecap="round" stroke-linejoin="round" />
<path d="M1112,208 C1114,203 1117,199.5 1119.5,200 C1123,201 1126,209 1127.5,215 C1130,226 1133,243 1142,268" fill="none" stroke="#8f8f8f" stroke-width="2.25" stroke-linecap="round" stroke-linejoin="round" />
<path d="M1114.4,255.5 C1121,259 1126,263 1130,268 C1135,275 1137,290 1137,305 C1137,316 1133,322 1127,325 C1121,327.5 1113,327.3 1106.7,327" fill="none" stroke="#8f8f8f" stroke-width="2.25" stroke-linecap="round" stroke-linejoin="round" />
<path d="M1112,208 C1104,217 1098.5,226 1099.5,236 C1100.5,245 1107,251 1114.4,255.5" fill="none" stroke="#38a338" stroke-width="5.2" stroke-linejoin="round" stroke-dasharray="1.9 1.2" stroke-linecap="butt"/>
<path d="M1073.5,315 C1068,315 1061,315.2 1057.5,316.2 C1054,317.3 1053.5,320.3 1057,321 C1061,321.6 1067,321.3 1071,321.8" fill="none" stroke="#8f8f8f" stroke-width="2.3" stroke-linecap="round" stroke-linejoin="round" />
<path d="M1106.7,327 C1102,322.5 1099.5,316 1096.7,310 C1094,303.5 1091.5,297.5 1087.5,297.5 C1083.5,297.5 1080.5,301.5 1078.3,305 C1076.5,308 1075,311 1073.3,313.5" fill="none" stroke="#2f9f40" stroke-width="4.6" stroke-linecap="round" stroke-linejoin="round" />
<path d="M1070.5,324.5 C1069.5,328 1070.5,331.5 1073,333 C1076,334.3 1077.5,335 1078,338 C1078.5,341.5 1080.5,343.5 1081.7,346" fill="none" stroke="#2f9f40" stroke-width="4.4" stroke-linecap="round" stroke-linejoin="round" />
<path d="M1082,346.5 L1083.7,348.5" fill="none" stroke="#9a9a9a" stroke-width="2" stroke-linecap="round" stroke-linejoin="round" />
<path d="M460.5,75.6 C459.5,53.599999999999994 472.6,53.599999999999994 471.6,75.6" fill="none" stroke="#8f8f8f" stroke-width="2.25" stroke-linecap="round" stroke-linejoin="round" />
<path d="M482.8,75.6 C481.8,52.599999999999994 494.5,52.599999999999994 493.5,75.6" fill="none" stroke="#8f8f8f" stroke-width="2.25" stroke-linecap="round" stroke-linejoin="round" />
<path d="M471.6,153.8 C471.6,170.3 482.8,170.3 482.8,153.8" fill="none" stroke="#8f8f8f" stroke-width="2.25" stroke-linecap="round" stroke-linejoin="round" />
<rect x="455.9" y="73.6" width="9.3" height="82.2" rx="0.9" fill="#4f9a47" stroke="#34702f" stroke-width="1"/>
<rect x="467.0" y="73.6" width="9.3" height="82.2" rx="0.9" fill="#4f9a47" stroke="#34702f" stroke-width="1"/>
<rect x="478.1" y="73.6" width="9.3" height="82.2" rx="0.9" fill="#4f9a47" stroke="#34702f" stroke-width="1"/>
<rect x="488.5" y="73.6" width="10.0" height="82.2" rx="0.9" fill="#5ba653" stroke="#34702f" stroke-width="1"/>
<path d="M491.2,77.8h4.6M493.5,75.5v4.6" stroke="#fff" stroke-width="1.3" fill="none"/>
<path d="M491.2,90.7h4.6M493.5,88.4v4.6" stroke="#fff" stroke-width="1.3" fill="none"/>
<path d="M491.2,108.5h4.6M493.5,106.2v4.6" stroke="#fff" stroke-width="1.3" fill="none"/>
<path d="M491.2,129.6h4.6M493.5,127.3v4.6" stroke="#fff" stroke-width="1.3" fill="none"/>
<path d="M491.2,144.0h4.6M493.5,141.7v4.6" stroke="#fff" stroke-width="1.3" fill="none"/>
<path d="M493.5,154 C493.5,160 495,163 498,166" fill="none" stroke="#8f8f8f" stroke-width="2.25" stroke-linecap="round" stroke-linejoin="round" />
<polygon points="495.0,161.0 533.0,152.8 535.1,162.6 497.1,170.8" fill="#3d7c36" stroke="#2f6a2d" stroke-width="1" stroke-linejoin="round"/>
<path d="M540.1,74 C540.1,67 549.0,66 550.0,78" fill="none" stroke="#8f8f8f" stroke-width="2.25" stroke-linecap="round" stroke-linejoin="round" />
<path d="M556.5,99.5 C558.5,105.5 561.5,103.5 562.5,95.5 C565.5,78 566.0,64 572.0,74" fill="none" stroke="#8f8f8f" stroke-width="2.25" stroke-linecap="round" stroke-linejoin="round" />
<rect x="535.5" y="72.0" width="9.3" height="83.0" rx="0.9" fill="#e8682b" stroke="#a54c1a" stroke-width="1"/>
<rect x="567.4" y="72.0" width="9.3" height="83.0" rx="0.9" fill="#e8682b" stroke="#a54c1a" stroke-width="1"/>
<rect x="548.6" y="75.6" width="9.2" height="26.3" rx="1.5" fill="#e8682b" stroke="#a54c1a" stroke-width="1" transform="rotate(-14.3 553.2 88.8)"/>
<path d="M599.8,75.6 C598.8,53.599999999999994 612.0,53.599999999999994 611.0,75.6" fill="none" stroke="#8f8f8f" stroke-width="2.25" stroke-linecap="round" stroke-linejoin="round" />
<path d="M622.0,75.6 C621.0,52.599999999999994 633.0,52.599999999999994 632.0,75.6" fill="none" stroke="#8f8f8f" stroke-width="2.25" stroke-linecap="round" stroke-linejoin="round" />
<path d="M611.0,153.8 C611.0,170.3 622.0,170.3 622.0,153.8" fill="none" stroke="#8f8f8f" stroke-width="2.25" stroke-linecap="round" stroke-linejoin="round" />
<rect x="595.2" y="73.6" width="9.2" height="82.2" rx="0.9" fill="#4f9a47" stroke="#34702f" stroke-width="1"/>
<rect x="606.3" y="73.6" width="9.3" height="82.2" rx="0.9" fill="#4f9a47" stroke="#34702f" stroke-width="1"/>
<rect x="617.4" y="73.6" width="9.3" height="82.2" rx="0.9" fill="#4f9a47" stroke="#34702f" stroke-width="1"/>
<rect x="627.4" y="73.6" width="9.3" height="82.2" rx="0.9" fill="#5ba653" stroke="#34702f" stroke-width="1"/>
<path d="M629.8,90.7h4.6M632.0,88.4v4.6" stroke="#fff" stroke-width="1.3" fill="none"/>
<path d="M629.8,108.5h4.6M632.0,106.2v4.6" stroke="#fff" stroke-width="1.3" fill="none"/>
<path d="M629.8,129.6h4.6M632.0,127.3v4.6" stroke="#fff" stroke-width="1.3" fill="none"/>
<path d="M629.8,144.0h4.6M632.0,141.7v4.6" stroke="#fff" stroke-width="1.3" fill="none"/>
<ellipse cx="632.0" cy="79.19999999999999" rx="3.7" ry="5.3" fill="#8e8e8e"/>
<path d="M632,154 C632,160 633.5,163 636.5,166" fill="none" stroke="#8f8f8f" stroke-width="2.25" stroke-linecap="round" stroke-linejoin="round" />
<polygon points="634.0,161.0 672.5,152.8 674.6,162.6 636.1,170.8" fill="#3d7c36" stroke="#2f6a2d" stroke-width="1" stroke-linejoin="round"/>
<path d="M678.4,74 C678.4,67 687.0,66 688.0,78" fill="none" stroke="#8f8f8f" stroke-width="2.25" stroke-linecap="round" stroke-linejoin="round" />
<path d="M694.5,99.5 C696.5,105.5 699.5,103.5 700.5,95.5 C703.5,78 705.0,64 711.0,74" fill="none" stroke="#8f8f8f" stroke-width="2.25" stroke-linecap="round" stroke-linejoin="round" />
<rect x="673.7" y="72.0" width="9.3" height="83.0" rx="0.9" fill="#e8682b" stroke="#a54c1a" stroke-width="1"/>
<rect x="706.3" y="72.0" width="9.3" height="83.0" rx="0.9" fill="#e8682b" stroke="#a54c1a" stroke-width="1"/>
<rect x="686.6" y="75.6" width="9.2" height="26.3" rx="1.5" fill="#e8682b" stroke="#a54c1a" stroke-width="1" transform="rotate(-14.3 691.2 88.8)"/>
<path d="M733.9,75.6 C732.9,53.599999999999994 746.0,53.599999999999994 745.0,75.6" fill="none" stroke="#8f8f8f" stroke-width="2.25" stroke-linecap="round" stroke-linejoin="round" />
<path d="M755.4,75.6 C754.4,52.599999999999994 766.4,52.599999999999994 765.4,75.6" fill="none" stroke="#8f8f8f" stroke-width="2.25" stroke-linecap="round" stroke-linejoin="round" />
<path d="M745.0,153.8 C745.0,170.3 755.4,170.3 755.4,153.8" fill="none" stroke="#8f8f8f" stroke-width="2.25" stroke-linecap="round" stroke-linejoin="round" />
<rect x="729.3" y="73.6" width="9.2" height="82.2" rx="0.9" fill="#4f9a47" stroke="#34702f" stroke-width="1"/>
<rect x="740.4" y="73.6" width="9.2" height="82.2" rx="0.9" fill="#4f9a47" stroke="#34702f" stroke-width="1"/>
<rect x="750.7" y="73.6" width="9.3" height="82.2" rx="0.9" fill="#4f9a47" stroke="#34702f" stroke-width="1"/>
<rect x="760.7" y="73.6" width="9.3" height="82.2" rx="0.9" fill="#5ba653" stroke="#34702f" stroke-width="1"/>
<path d="M763.1,90.7h4.6M765.4,88.4v4.6" stroke="#fff" stroke-width="1.3" fill="none"/>
<path d="M763.1,108.5h4.6M765.4,106.2v4.6" stroke="#fff" stroke-width="1.3" fill="none"/>
<path d="M763.1,129.6h4.6M765.4,127.3v4.6" stroke="#fff" stroke-width="1.3" fill="none"/>
<path d="M763.1,144.0h4.6M765.4,141.7v4.6" stroke="#fff" stroke-width="1.3" fill="none"/>
<ellipse cx="765.4" cy="79.19999999999999" rx="3.7" ry="5.3" fill="#8e8e8e"/>
<path d="M765.4,154 C765.4,160 767,163 770,166" fill="none" stroke="#8f8f8f" stroke-width="2.25" stroke-linecap="round" stroke-linejoin="round" />
<polygon points="767.5,161.0 807.5,152.8 809.5,162.6 769.5,170.8" fill="#3d7c36" stroke="#2f6a2d" stroke-width="1" stroke-linejoin="round"/>
<path d="M813.3,74 C813.3,67 821.5,66 822.5,78" fill="none" stroke="#8f8f8f" stroke-width="2.25" stroke-linecap="round" stroke-linejoin="round" />
<path d="M829.0,99.5 C831.0,105.5 834.0,103.5 835.0,95.5 C838.0,78 838.6,64 844.6,74" fill="none" stroke="#8f8f8f" stroke-width="2.25" stroke-linecap="round" stroke-linejoin="round" />
<rect x="808.9" y="72.0" width="8.9" height="83.0" rx="0.9" fill="#e8682b" stroke="#a54c1a" stroke-width="1"/>
<rect x="840.0" y="72.0" width="9.3" height="83.0" rx="0.9" fill="#e8682b" stroke="#a54c1a" stroke-width="1"/>
<rect x="821.1" y="75.6" width="9.2" height="26.3" rx="1.5" fill="#e8682b" stroke="#a54c1a" stroke-width="1" transform="rotate(-14.3 825.8 88.8)"/>
<path d="M860.1,75.6 C859.1,53.599999999999994 871.5,53.599999999999994 870.5,75.6" fill="none" stroke="#8f8f8f" stroke-width="2.25" stroke-linecap="round" stroke-linejoin="round" />
<path d="M881.5,75.6 C880.5,52.599999999999994 893.0,52.599999999999994 892.0,75.6" fill="none" stroke="#8f8f8f" stroke-width="2.25" stroke-linecap="round" stroke-linejoin="round" />
<path d="M870.5,153.8 C870.5,170.3 881.5,170.3 881.5,153.8" fill="none" stroke="#8f8f8f" stroke-width="2.25" stroke-linecap="round" stroke-linejoin="round" />
<rect x="855.9" y="73.6" width="8.5" height="82.2" rx="0.9" fill="#4f9a47" stroke="#34702f" stroke-width="1"/>
<rect x="866.3" y="73.6" width="8.5" height="82.2" rx="0.9" fill="#4f9a47" stroke="#34702f" stroke-width="1"/>
<rect x="877.0" y="73.6" width="8.9" height="82.2" rx="0.9" fill="#4f9a47" stroke="#34702f" stroke-width="1"/>
<rect x="887.4" y="73.6" width="9.3" height="82.2" rx="0.9" fill="#5ba653" stroke="#34702f" stroke-width="1"/>
<path d="M889.8,90.7h4.6M892.0,88.4v4.6" stroke="#fff" stroke-width="1.3" fill="none"/>
<path d="M889.8,108.5h4.6M892.0,106.2v4.6" stroke="#fff" stroke-width="1.3" fill="none"/>
<path d="M889.8,129.6h4.6M892.0,127.3v4.6" stroke="#fff" stroke-width="1.3" fill="none"/>
<path d="M889.8,144.0h4.6M892.0,141.7v4.6" stroke="#fff" stroke-width="1.3" fill="none"/>
<ellipse cx="892.0" cy="79.19999999999999" rx="3.7" ry="5.3" fill="#8e8e8e"/>
<path d="M892,154 C892,160 893.5,163 896.5,166" fill="none" stroke="#8f8f8f" stroke-width="2.25" stroke-linecap="round" stroke-linejoin="round" />
<polygon points="894.0,161.0 933.5,152.8 935.5,162.6 896.0,170.8" fill="#3d7c36" stroke="#2f6a2d" stroke-width="1" stroke-linejoin="round"/>
<path d="M939.0,74 C939.0,67 947.5,66 948.5,78" fill="none" stroke="#8f8f8f" stroke-width="2.25" stroke-linecap="round" stroke-linejoin="round" />
<path d="M955.0,99.5 C957.0,105.5 960.0,103.5 961.0,95.5 C964.0,78 964.8,64 970.8,74" fill="none" stroke="#8f8f8f" stroke-width="2.25" stroke-linecap="round" stroke-linejoin="round" />
<rect x="934.8" y="72.0" width="8.5" height="83.0" rx="0.9" fill="#e8682b" stroke="#a54c1a" stroke-width="1"/>
<rect x="966.3" y="72.0" width="8.9" height="83.0" rx="0.9" fill="#e8682b" stroke="#a54c1a" stroke-width="1"/>
<rect x="947.1" y="75.6" width="9.2" height="26.3" rx="1.5" fill="#e8682b" stroke="#a54c1a" stroke-width="1" transform="rotate(-14.3 951.8 88.8)"/>
<path d="M1022.5,75.6 C1021.5,53.599999999999994 1033.7,53.599999999999994 1032.7,75.6" fill="none" stroke="#8f8f8f" stroke-width="2.25" stroke-linecap="round" stroke-linejoin="round" />
<path d="M1043.0,75.6 C1042.0,52.599999999999994 1054.9,52.599999999999994 1053.9,75.6" fill="none" stroke="#8f8f8f" stroke-width="2.25" stroke-linecap="round" stroke-linejoin="round" />
<path d="M1032.7,153.8 C1032.7,170.3 1043.0,170.3 1043.0,153.8" fill="none" stroke="#8f8f8f" stroke-width="2.25" stroke-linecap="round" stroke-linejoin="round" />
<rect x="1018.0" y="73.6" width="9.0" height="82.2" rx="0.9" fill="#4f9a47" stroke="#34702f" stroke-width="1"/>
<rect x="1028.4" y="73.6" width="8.6" height="82.2" rx="0.9" fill="#4f9a47" stroke="#34702f" stroke-width="1"/>
<rect x="1038.6" y="73.6" width="8.8" height="82.2" rx="0.9" fill="#4f9a47" stroke="#34702f" stroke-width="1"/>
<rect x="1049.3" y="73.6" width="9.2" height="82.2" rx="0.9" fill="#5ba653" stroke="#34702f" stroke-width="1"/>
<path d="M1051.6,77.8h4.6M1053.9,75.5v4.6" stroke="#fff" stroke-width="1.3" fill="none"/>
<path d="M1051.6,90.7h4.6M1053.9,88.4v4.6" stroke="#fff" stroke-width="1.3" fill="none"/>
<path d="M1051.6,108.5h4.6M1053.9,106.2v4.6" stroke="#fff" stroke-width="1.3" fill="none"/>
<path d="M1051.6,129.6h4.6M1053.9,127.3v4.6" stroke="#fff" stroke-width="1.3" fill="none"/>
<path d="M1051.6,144.0h4.6M1053.9,141.7v4.6" stroke="#fff" stroke-width="1.3" fill="none"/>
<path d="M1054,154 C1054,160 1055.5,163 1058.5,166" fill="none" stroke="#8f8f8f" stroke-width="2.25" stroke-linecap="round" stroke-linejoin="round" />
<polygon points="1056.5,161.5 1096.5,152.8 1098.6,162.6 1058.6,171.3" fill="#3d7c36" stroke="#2f6a2d" stroke-width="1" stroke-linejoin="round"/>
<path d="M1102.2,74 C1102.2,67 1110.5,66 1111.5,78" fill="none" stroke="#8f8f8f" stroke-width="2.25" stroke-linecap="round" stroke-linejoin="round" />
<path d="M1118.0,99.5 C1120.0,105.5 1123.0,103.5 1124.0,95.5 C1127.0,78 1126.7,64 1132.7,74" fill="none" stroke="#8f8f8f" stroke-width="2.25" stroke-linecap="round" stroke-linejoin="round" />
<rect x="1097.8" y="72.0" width="8.9" height="83.0" rx="0.9" fill="#2f6db6" stroke="#27579a" stroke-width="1"/>
<rect x="1128.0" y="72.0" width="9.4" height="83.0" rx="0.9" fill="#2f6db6" stroke="#27579a" stroke-width="1"/>
<rect x="1110.2" y="75.6" width="9.2" height="26.3" rx="1.5" fill="#2f6db6" stroke="#27579a" stroke-width="1" transform="rotate(-14.3 1114.8 88.8)"/>
<text transform="translate(444.5 211) scale(0.86 1)" x="0" y="0" class="b" font-size="34" fill="#0a0a0a">N</text>
<text transform="translate(964.2 204) scale(0.91 1)" x="0" y="0" class="b" font-size="32" fill="#0a0a0a">C</text>
<text transform="translate(1008.6 207.7) scale(0.9 1)" x="0" y="0" class="b" font-size="32.5" fill="#0a0a0a">N</text>
<text transform="translate(1086.2 368) scale(0.87 1)" x="0" y="0" class="b" font-size="32" fill="#0a0a0a">C</text>
<text x="769.6" y="262.4" class="b" font-size="24" fill="#111" textLength="65.2" lengthAdjust="spacingAndGlyphs">anchor</text>
<text x="1025" y="285" class="b" font-size="24" fill="#111" textLength="65.5" lengthAdjust="spacingAndGlyphs">anchor</text>
<text x="838" y="282.3"  font-size="28" fill="#111" stroke="#111" stroke-width="0.7" textLength="157.7" lengthAdjust="spacingAndGlyphs">(...<tspan class="red">IA</tspan>V<tspan class="red">GESD</tspan>F<tspan class="red">E</tspan>...)</text>
<text x="831" y="312.3"  font-size="28" fill="#111" stroke="#111" stroke-width="0.7" textLength="175.7" lengthAdjust="spacingAndGlyphs">(...<tspan class="red">IA</tspan>E<tspan class="red">GES/TD</tspan>T<tspan class="red">D</tspan>...)</text>
<path d="M830,276.5 C800,285 775,305 758,319.8" fill="none" stroke="#222" stroke-width="1.6"/>
<path d="M754.6,322.6 l7.6,-2.2 l-2.9,-1.5 l-0.9,-3.3 z" fill="#222"/>
<path d="M1018,308 C1022,315 1031,319.5 1043,319.7" fill="none" stroke="#222" stroke-width="1.5"/>
<path d="M1047.2,319.8 l-6,-2.8 l1.4,2.8 l-1.4,2.8 z" fill="#222"/>
</g>
</svg>
</body></html>
